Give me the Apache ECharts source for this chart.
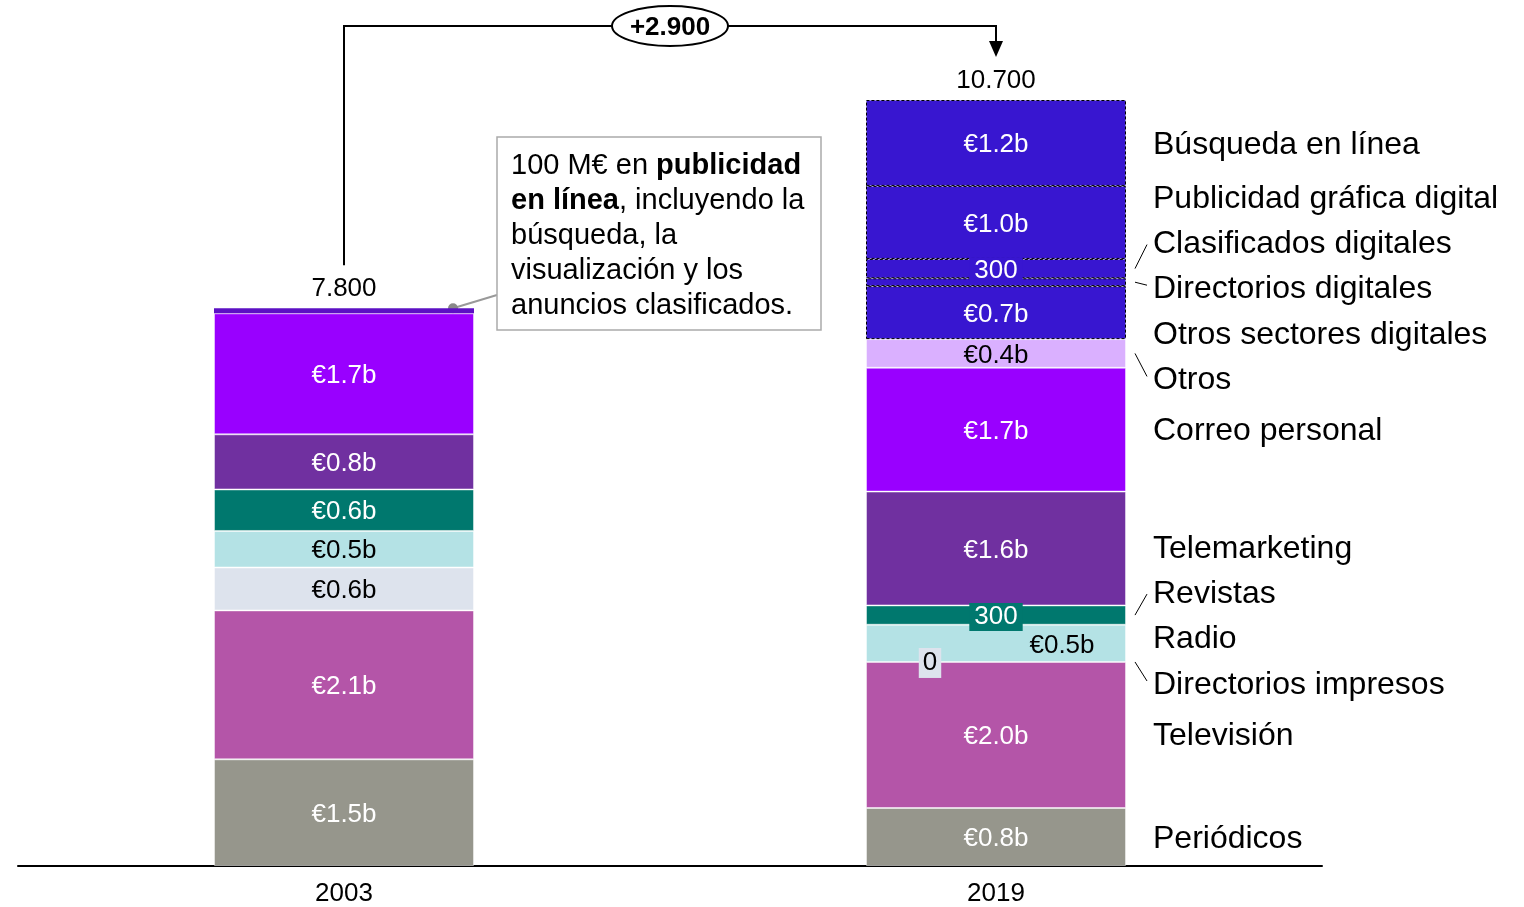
<!DOCTYPE html>
<html>
<head>
<meta charset="utf-8">
<script src="https://cdn.jsdelivr.net/npm/echarts@6/dist/echarts.min.js"></script>
<style>
  html, body { margin: 0; padding: 0; background: #fff; }
  #main { width: 1524px; height: 907px; }
</style>
</head>
<body>
<div id="main"></div>
<script>
// data, stacked from bottom to top
const years = ['2003', '2019']
const names = ['Periódicos', 'Televisión', 'Directorios impresos', 'Radio', 'Revistas', 'Telemarketing',
  'Correo personal', 'Otros', 'Otros sectores digitales', 'Directorios digitales',
  'Clasificados digitales', 'Publicidad gráfica digital', 'Búsqueda en línea']
const values2003 = [1.49, 2.08, 0.6, 0.51, 0.58, 0.77, 1.69, null, null, null, null, null, 0.07]
const values2019 = [0.81, 2.04, 0, 0.52, 0.27, 1.59, 1.73, 0.4, 0.74, 0.11, 0.27, 1.02, 1.2]
const labels2003 = ['€1.5b', '€2.1b', '€0.6b', '€0.5b', '€0.6b', '€0.8b', '€1.7b', '', '', '', '', '', '']
const labels2019 = ['€0.8b', '€2.0b', '0', '€0.5b', '300', '€1.6b', '€1.7b', '€0.4b', '€0.7b', '', '300', '€1.0b', '€1.2b']
const totals = [7800, 10700]

// styling
const FONT = 'Liberation Sans, Arial, sans-serif'
const colors = ['#96968c', '#b455a8', '#dde3ed', '#b4e2e5', '#00786e', '#7030a0',
  '#9900ff', '#dab0ff', '#3816d0', '#3816d0', '#3816d0', '#3816d0', '#3816d0']
const darkText = [2, 3, 7]
const digital = [8, 9, 10, 11, 12]
const nudge = [0, -1, 21, -6, -23, -1, 0, 25, 21, 5, -26, -25, 0]
const leaders = [2, 4, 7, 9, 10]
const special2019 = {
  2: { offset: [-66, 1], backgroundColor: '#dde3ed', padding: [2, 4] },
  3: { offset: [66, 2] },
  4: { backgroundColor: '#00786e', padding: [1, 5] },
  10: { backgroundColor: '#3816d0', padding: [0, 5] }
}

function fmt(n) {
  return String(n).replace(/\B(?=(\d{3})+(?!\d))/g, '.')
}

const series = names.map((name, i) => {
  const txt = darkText.includes(i) ? '#000' : '#fff'
  const isDig = digital.includes(i)
  const item03 = {
    value: values2003[i],
    itemStyle: i === 12 ? { color: '#5c10c4', borderWidth: 0 } : {},
    label: { formatter: labels2003[i], color: txt }
  }
  const item19 = {
    value: values2019[i],
    itemStyle: values2019[i] === 0 ? { borderWidth: 0 } : {},
    label: Object.assign({ formatter: labels2019[i], color: txt }, special2019[i] || {})
  }
  return {
    name: name,
    type: 'bar',
    stack: 'total',
    barWidth: 260,
    itemStyle: isDig
      ? { color: colors[i], borderColor: '#000', borderWidth: 1, borderType: [3, 2] }
      : { color: colors[i], borderColor: 'rgba(255,255,255,0.45)', borderWidth: 1 },
    label: {
      show: true,
      position: 'inside',
      offset: [0, 2],
      fontFamily: FONT,
      fontSize: 26
    },
    data: [item03, item19]
  }
})

const myChart = echarts.init(document.getElementById('main'))
myChart.setOption({
  animation: false,
  grid: { left: 18, right: 202, top: 100, bottom: 40 },
  xAxis: {
    type: 'category',
    data: years,
    axisLine: { lineStyle: { color: '#000', width: 2 } },
    axisTick: { show: false },
    axisLabel: { color: '#000', fontFamily: FONT, fontSize: 26, margin: 15 }
  },
  yAxis: { type: 'value', min: 0, max: 10.7, show: false },
  series: series
})

// annotations placed through the chart's own scales
function px(year, v) {
  return myChart.convertToPixel({ xAxisIndex: 0, yAxisIndex: 0 }, [year, v])
}
const g = []
const top03 = px('2003', values2003.reduce((a, b) => a + (b || 0), 0))
const top19 = px('2019', values2019.reduce((a, b) => a + b, 0))

// totals above bars
;[top03, top19].forEach((p, k) => {
  g.push({ type: 'text', style: { x: p[0], y: p[1] - 19, text: fmt(totals[k]), fill: '#000',
    font: '26px ' + FONT, textAlign: 'center', textVerticalAlign: 'middle' } })
})

// bracket with delta
const lineY = 26
g.push({ type: 'polyline', shape: { points: [[top03[0], top03[1] - 43], [top03[0], lineY], [top19[0], lineY], [top19[0], top19[1] - 58]] },
  style: { stroke: '#000', lineWidth: 2, fill: null } })
g.push({ type: 'polygon', shape: { points: [[top19[0] - 7, top19[1] - 59], [top19[0] + 7, top19[1] - 59], [top19[0], top19[1] - 43]] },
  style: { fill: '#000' } })
const midX = (top03[0] + top19[0]) / 2
g.push({ type: 'ellipse', shape: { cx: midX, cy: lineY, rx: 58, ry: 20 }, style: { fill: '#fff', stroke: '#000', lineWidth: 2 } })
g.push({ type: 'text', style: { x: midX, y: lineY + 2, text: '+' + fmt(totals[1] - totals[0]), fill: '#000',
  font: 'bold 26px ' + FONT, textAlign: 'center', textVerticalAlign: 'middle' } })

// callout box
g.push({ type: 'line', shape: { x1: 497, y1: 295, x2: top03[0] + 109, y2: top03[1] }, style: { stroke: '#999', lineWidth: 2 } })
g.push({ type: 'circle', shape: { cx: top03[0] + 109, cy: top03[1], r: 5 }, style: { fill: '#888' } })
g.push({ type: 'rect', shape: { x: 497, y: 137, width: 324, height: 193 }, style: { fill: '#fff', stroke: '#aaa', lineWidth: 1.5 } })
g.push({ type: 'text', style: {
  x: 511, y: 148, fill: '#000', fontFamily: FONT, fontSize: 29, lineHeight: 35, textVerticalAlign: 'top',
  text: '100 M€ en {b|publicidad}\n{b|en línea}, incluyendo la\nbúsqueda, la\nvisualización y los\nanuncios clasificados.',
  rich: { b: { fontWeight: 'bold', fontFamily: FONT, fontSize: 29, lineHeight: 35 } }
} })

// right-hand series names
let acc = 0
const barRight = top19[0] + 130
names.forEach((name, i) => {
  const c = px('2019', acc + values2019[i] / 2)[1]
  acc += values2019[i]
  const ly = c + nudge[i]
  g.push({ type: 'text', style: { x: barRight + 27, y: ly + 2, text: name, fill: '#000',
    font: '32px ' + FONT, textAlign: 'left', textVerticalAlign: 'middle' } })
  if (leaders.includes(i)) {
    g.push({ type: 'line', shape: { x1: barRight + 9, y1: c, x2: barRight + 21, y2: ly + (ly > c ? -2 : 2) },
      style: { stroke: '#000', lineWidth: 1 } })
  }
})

myChart.setOption({ graphic: g })
</script>
</body>
</html>
